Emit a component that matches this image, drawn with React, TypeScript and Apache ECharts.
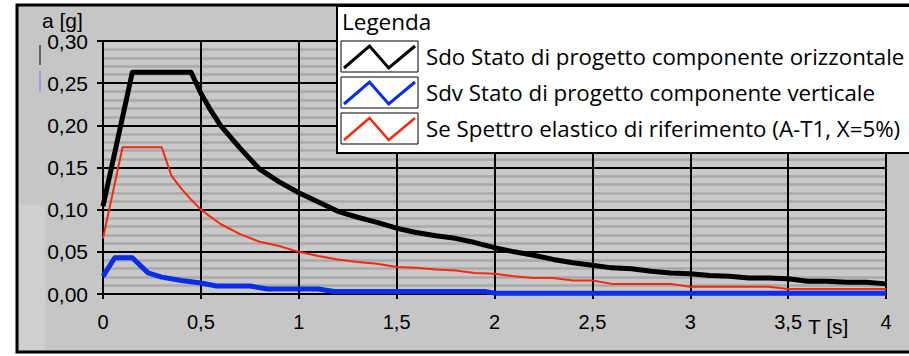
import React, { useEffect, useRef } from "react";
import * as echarts from "echarts";

// Periods T [s] and spectral accelerations a [g] for each spectrum
const periodsSdo = [0, 0.15, 0.45, 0.5, 0.55, 0.6, 0.7, 0.8, 0.9, 1.0, 1.1, 1.2, 1.3, 1.4, 1.5, 1.6, 1.7, 1.8, 1.9, 2.0, 2.1, 2.2, 2.3, 2.4, 2.5, 2.6, 2.7, 2.8, 2.9, 3.0, 3.1, 3.2, 3.3, 3.4, 3.5, 3.6, 3.7, 3.8, 3.9, 4.0];
const sdo = [0.104, 0.263, 0.263, 0.238, 0.218, 0.2, 0.173, 0.148, 0.133, 0.12, 0.109, 0.098, 0.091, 0.085, 0.078, 0.073, 0.069, 0.066, 0.061, 0.055, 0.05, 0.046, 0.041, 0.037, 0.034, 0.031, 0.03, 0.027, 0.025, 0.024, 0.022, 0.021, 0.019, 0.019, 0.018, 0.015, 0.015, 0.014, 0.014, 0.012];

const periodsSdv = [0, 0.06, 0.15, 0.23, 0.3, 0.4, 0.5, 0.58, 0.75, 0.84, 1.1, 1.18, 1.95, 2.0, 4.0];
const sdv = [0.021, 0.043, 0.043, 0.025, 0.02, 0.016, 0.013, 0.0095, 0.0095, 0.006, 0.006, 0.003, 0.003, 0.001, 0.001];

const periodsSe = [0, 0.1, 0.3, 0.35, 0.4, 0.45, 0.5, 0.6, 0.7, 0.8, 0.9, 1.0, 1.1, 1.2, 1.3, 1.4, 1.5, 1.6, 1.7, 1.8, 1.9, 2.0, 2.1, 2.2, 2.3, 2.4, 2.5, 2.6, 2.7, 2.8, 2.9, 3.0, 3.1, 3.2, 3.3, 3.4, 3.5, 3.6, 3.7, 3.8, 3.9, 4.0];
const se = [0.066, 0.174, 0.174, 0.14, 0.125, 0.112, 0.1, 0.083, 0.071, 0.062, 0.057, 0.05, 0.045, 0.041, 0.038, 0.036, 0.032, 0.031, 0.029, 0.028, 0.025, 0.024, 0.021, 0.019, 0.019, 0.016, 0.016, 0.012, 0.012, 0.012, 0.012, 0.0085, 0.0085, 0.0085, 0.0085, 0.0085, 0.006, 0.006, 0.006, 0.006, 0.006, 0.006];

const legendLabels = [
  "Sdo Stato di progetto componente orizzontale",
  "Sdv Stato di progetto componente verticale",
  "Se Spettro elastico di riferimento (A-T1, X=5%)",
];
const seriesColors = ["#000000", "#0a2de6", "#f42a0c"];
const seriesWidths = [5, 5, 2];

const zip = (xs: number[], ys: number[]) => xs.map((x, i) => [x, ys[i]]);
const comma = (v: number, digits: number) => v.toFixed(digits).replace(".", ",");

const AXIS_FONT = "'Liberation Sans', Arial, sans-serif";
const LEGEND_FONT = "'Open Sans', 'Noto Sans', sans-serif";
const TOP_Z = 100;

export default function App() {
  const ref = useRef<HTMLDivElement>(null);

  useEffect(() => {
    if (!ref.current) return;
    const chart = echarts.init(ref.current, undefined, { renderer: "svg" });

    const rowTops = [41, 77, 113];
    const legendItems: any[] = [
      {
        type: "rect",
        z: TOP_Z,
        shape: { x: 337, y: 6, width: 600, height: 147 },
        style: { fill: "#ffffff", stroke: "#000000", lineWidth: 2 },
      },
      {
        type: "text",
        z: TOP_Z + 1,
        x: 342,
        y: 21,
        style: { text: "Legenda", fill: "#000", font: `22.5px ${LEGEND_FONT}`, verticalAlign: "middle" },
      },
    ];
    rowTops.forEach((top, i) => {
      const l = 341, w = 77, h = 31;
      legendItems.push({
        type: "rect",
        z: TOP_Z + 1,
        shape: { x: l, y: top, width: w, height: h },
        style: { fill: "#ffffff", stroke: "#000000", lineWidth: 1 },
      });
      legendItems.push({
        type: "polyline",
        z: TOP_Z + 2,
        shape: {
          points: [
            [l + 3, top + h - 4],
            [l + w * 0.37, top + 5],
            [l + w * 0.62, top + h - 4],
            [l + w - 3, top + 5],
          ],
        },
        style: { stroke: seriesColors[i], lineWidth: i === 2 ? 2.5 : 3, fill: null },
      });
      legendItems.push({
        type: "text",
        z: TOP_Z + 2,
        x: 426,
        y: top + h / 2,
        style: {
          text: legendLabels[i],
          fill: "#000",
          font: `22.3px ${LEGEND_FONT}`,
          verticalAlign: "middle",
        },
      });
    });

    chart.setOption({
      animation: false,
      backgroundColor: "#ffffff",
      graphic: [
        {
          type: "rect",
          z: -10,
          silent: true,
          shape: { x: 17, y: 5, width: 900, height: 347 },
          style: { fill: "#c6c6c6", stroke: "#000000", lineWidth: 3 },
        },
        {
          // lighter panel strip at the lower left, over the first digits of the tick labels
          type: "rect",
          z: 20,
          silent: true,
          shape: { x: 19, y: 205, width: 26, height: 145 },
          style: { fill: "#cfcfcf" },
        },
        {
          type: "line",
          z: 5,
          shape: { x1: 40, y1: 45, x2: 40, y2: 65 },
          style: { stroke: "#000", lineWidth: 1 },
        },
        {
          type: "line",
          z: 5,
          shape: { x1: 40, y1: 71, x2: 40, y2: 92 },
          style: { stroke: "#7070ff", lineWidth: 1 },
        },
        {
          type: "text",
          z: 5,
          x: 42,
          y: 20,
          style: { text: "a [g]", fill: "#000", font: `21px ${AXIS_FONT}`, verticalAlign: "middle" },
        },
        {
          type: "text",
          z: 5,
          x: 808,
          y: 326,
          style: { text: "T [s]", fill: "#000", font: `21px ${AXIS_FONT}`, verticalAlign: "middle" },
        },
        ...legendItems,
      ],
      grid: {
        left: 103,
        right: 23,
        top: 41,
        bottom: 62,
        show: true,
        backgroundColor: "#c9c9c9",
        borderColor: "#9a9a9a",
        borderWidth: 1,
      },
      xAxis: {
        type: "value",
        min: 0,
        max: 4,
        interval: 0.5,
        axisLine: { show: true, onZero: false, lineStyle: { color: "#000", width: 2 } },
        axisTick: { show: true, length: 5, lineStyle: { color: "#000", width: 2 } },
        axisLabel: {
          color: "#000",
          fontFamily: "Liberation Sans, Arial, sans-serif",
          fontSize: 20,
          margin: 18,
          formatter: (v: number) => String(v).replace(".", ","),
        },
        splitLine: { show: true, lineStyle: { color: "#000", width: 2 } },
      },
      yAxis: {
        type: "value",
        min: 0,
        max: 0.3,
        interval: 0.05,
        axisLine: { show: true, lineStyle: { color: "#000", width: 2 } },
        axisTick: { show: true, length: 6, lineStyle: { color: "#000", width: 2 } },
        axisLabel: {
          color: "#000",
          fontFamily: "Liberation Sans, Arial, sans-serif",
          fontSize: 21,
          margin: 15,
          padding: [6, 0, 0, 0],
          formatter: (v: number) => comma(v, 2),
        },
        splitLine: { show: true, lineStyle: { color: "#000", width: 2 } },
        minorTick: { show: false, splitNumber: 5 },
        minorSplitLine: { show: true, lineStyle: { color: "#a9a9a9", width: 2.5 } },
      },
      series: [
        { idx: 2, data: zip(periodsSe, se) },
        { idx: 1, data: zip(periodsSdv, sdv) },
        { idx: 0, data: zip(periodsSdo, sdo) },
      ].map((s) => ({
        type: "line",
        name: legendLabels[s.idx],
        data: s.data,
        showSymbol: false,
        symbol: "none",
        lineStyle: { color: seriesColors[s.idx], width: seriesWidths[s.idx], join: "round" },
        z: 3,
      })),
    });

    return () => chart.dispose();
  }, []);

  return (
    <div
      ref={ref}
      style={{ position: "absolute", left: 0, top: 0, width: 909, height: 356 }}
    />
  );
}
